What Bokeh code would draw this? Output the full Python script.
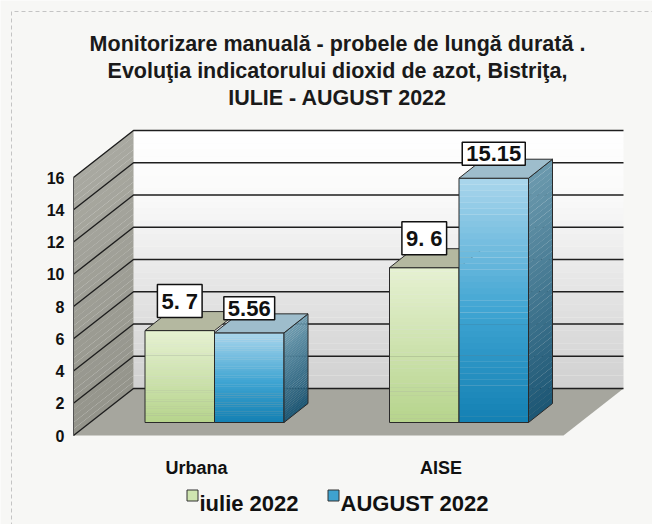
from bokeh.plotting import figure
from bokeh.models import Range1d, Label
from bokeh.core.properties import value
from bokeh.embed import file_html
from bokeh.resources import INLINE

# ---------------- data ----------------
title_lines = ["Monitorizare manuală - probele de lungă durată .",
               "Evoluţia indicatorului dioxid de azot, Bistriţa,",
               "IULIE - AUGUST 2022"]
categories = ["Urbana", "AISE"]
series_names = ["iulie 2022", "AUGUST 2022"]
iulie_2022 = [5.7, 9.6]
august_2022 = [5.56, 15.15]
iulie_labels = ["5. 7", "9. 6"]
august_labels = ["5.56", "15.15"]
y_ticks = [0, 2, 4, 6, 8, 10, 12, 14, 16]

# ---------------- layout (pixel-like x, value y) ----------------
W, H = 652, 524
PX = 16.125          # pixels per value unit
Y0 = 435.0           # image y of value 0 on the front plane
def vy(img_y):
    return (Y0 - img_y) / PX

FONT_NAME = "Liberation Sans"
FONT = value(FONT_NAME)

p = figure(width=W, height=H, output_backend="svg", toolbar_location=None,
           x_range=Range1d(0, W), y_range=Range1d(vy(H), vy(0)),
           x_axis_type=None, y_axis_type=None, min_border=0)
p.grid.visible = False
p.outline_line_color = None
p.background_fill_color = "#f7f7f5"
p.border_fill_color = "#f7f7f5"

def hex2rgb(h):
    h = h.lstrip("#")
    return tuple(int(h[i:i + 2], 16) for i in (0, 2, 4))

def lerp(c1, c2, t):
    a, b = hex2rgb(c1), hex2rgb(c2)
    return "#%02x%02x%02x" % tuple(int(round(a[i] + (b[i] - a[i]) * t)) for i in range(3))

def grad(stops, t):
    for (p0, c0), (p1, c1) in zip(stops, stops[1:]):
        if t <= p1:
            return lerp(c0, c1, (t - p0) / (p1 - p0) if p1 > p0 else 0)
    return stops[-1][1]

# dashed scan border
p.line([11, 11, 660], [vy(540), vy(11), vy(11)], line_color="#c4c4c4",
       line_width=1, line_dash="4 3")

# chart box geometry
XF0, XB0, XB1 = 73, 133, 623
DEPTH_X = XB0 - XF0
DEPTH_V = 47 / PX
VMAX = y_ticks[-1]
N = 40

# back wall (gradient)
bw_stops = [(0.0, "#d0d0d0"), (0.45, "#e8e8e8"), (0.75, "#fafafa"), (1.0, "#ffffff")]
for i in range(N):
    b = DEPTH_V + VMAX * i / N
    t = DEPTH_V + VMAX * (i + 1) / N
    p.quad(left=XB0, right=XB1, bottom=b, top=t + 0.01,
           fill_color=grad(bw_stops, (i + 0.5) / N), line_color=None)

# left wall (gradient)
lw_stops = [(0.0, "#94948b"), (1.0, "#a9a9a1")]
xs, ys, cs = [], [], []
for i in range(N):
    b = VMAX * i / N
    t = VMAX * (i + 1) / N + 0.01
    xs.append([XF0, XB0, XB0, XF0])
    ys.append([b, b + DEPTH_V, t + DEPTH_V, t])
    cs.append(grad(lw_stops, (i + 0.5) / N))
p.patches(xs, ys, fill_color=cs, line_color=None)

# floor
p.patch([XF0, XB1 - DEPTH_X, XB1, XB0], [0, 0, DEPTH_V, DEPTH_V],
        fill_color="#a6a69e", line_color=None)

# grid lines (back wall + left wall diagonals)
for k in y_ticks:
    p.line([XF0, XB0, XB1], [k, k + DEPTH_V, k + DEPTH_V],
           line_color="#1e1e1e", line_width=1.4)
p.line([XF0, XF0], [0, VMAX], line_color="#555555", line_width=1)

# y tick labels
p.text(x=[64] * len(y_ticks), y=y_ticks, text=[str(t) for t in y_ticks],
       text_align="right", text_baseline="middle", text_font=FONT,
       text_font_style="bold", text_font_size="16px", text_color="#111111")

# ---------------- bars ----------------
GROUP_X0, GROUP_STEP = 214.0, 244.5
BAR_W = 69.5
BAR_V0 = 13 / PX
BD_X, BD_V = 24, 19 / PX

green_front = [(0.0, "#b6d48c"), (1.0, "#e6f1d2")]
blue_front = [(0.0, "#1380b3"), (0.45, "#3ea4d2"), (1.0, "#aad6ec")]
blue_side = [(0.0, "#1c5674"), (1.0, "#6c9aae")]
green_top = "#b4b8a0"
blue_top = "#9ebdcc"

def draw_bar(xl, val, front, top_col, side=None):
    xr = xl + BAR_W
    vb, vt = BAR_V0, BAR_V0 + val
    for i in range(N):
        b = vb + (vt - vb) * i / N
        t = vb + (vt - vb) * (i + 1) / N
        p.quad(left=xl, right=xr, bottom=b, top=t + 0.01,
               fill_color=grad(front, (i + 0.5) / N), line_color=None)
    p.quad(left=xl, right=xr, bottom=vb, top=vt, fill_color=None,
           line_color="#2a2a2a", line_width=1)
    if side is not None:
        sx, sy, sc = [], [], []
        for i in range(N):
            b = vb + (vt - vb) * i / N
            t = vb + (vt - vb) * (i + 1) / N + 0.01
            sx.append([xr, xr + BD_X, xr + BD_X, xr])
            sy.append([b, b + BD_V, t + BD_V, t])
            sc.append(grad(side, (i + 0.5) / N))
        p.patches(sx, sy, fill_color=sc, line_color=None)
        p.patch([xr, xr + BD_X, xr + BD_X, xr], [vb, vb + BD_V, vt + BD_V, vt],
                fill_color=None, line_color="#2a2a2a", line_width=1)
    p.patch([xl, xr, xr + BD_X, xl + BD_X], [vt, vt, vt + BD_V, vt + BD_V],
            fill_color=top_col, line_color="#2a2a2a", line_width=1)
    return (xl + xr) / 2, vt

label_pos = []
for i, cat in enumerate(categories):
    gx = GROUP_X0 + i * GROUP_STEP
    c1 = draw_bar(gx - BAR_W, iulie_2022[i], green_front, green_top)
    c2 = draw_bar(gx, august_2022[i], blue_front, blue_top, blue_side)
    label_pos.append((c1, iulie_labels[i]))
    label_pos.append((c2, august_labels[i]))
    p.text(x=[gx - 18], y=[vy(467)], text=[cat], text_align="center",
           text_baseline="alphabetic", text_font=FONT, text_font_style="bold",
           text_font_size="18px", text_color="#111111")

for (cx, top), txt in label_pos:
    p.add_layout(Label(x=cx, y=top, text=txt, text_align="center",
                       text_baseline="bottom", y_offset=13, text_font=FONT_NAME,
                       text_font_style="bold", text_font_size="22px",
                       text_color="#111111", background_fill_color="white",
                       border_line_color="#111111", border_line_width=1.5,
                       padding=4))

# ---------------- title ----------------
for j, line in enumerate(title_lines):
    p.text(x=[337], y=[vy(43 + 27 * j)], text=[line], text_align="center",
           text_baseline="alphabetic", text_font=FONT, text_font_style="bold",
           text_font_size="21.5px", text_color="#1a1a1a")

# ---------------- legend ----------------
leg_x = [192, 333]
leg_col = ["#cfe5b0", "#3fa2cf"]
p.scatter(x=leg_x, y=[vy(495)] * 2, marker="square", size=11,
          fill_color=leg_col, line_color="#333333", line_width=1)
p.text(x=[x + 7 for x in leg_x], y=[vy(503)] * 2, text=series_names,
       text_align="left", text_baseline="alphabetic", text_font=FONT,
       text_font_style="bold", text_font_size="22px", text_color="#111111")

open("out.html", "w").write(file_html(p, INLINE))
